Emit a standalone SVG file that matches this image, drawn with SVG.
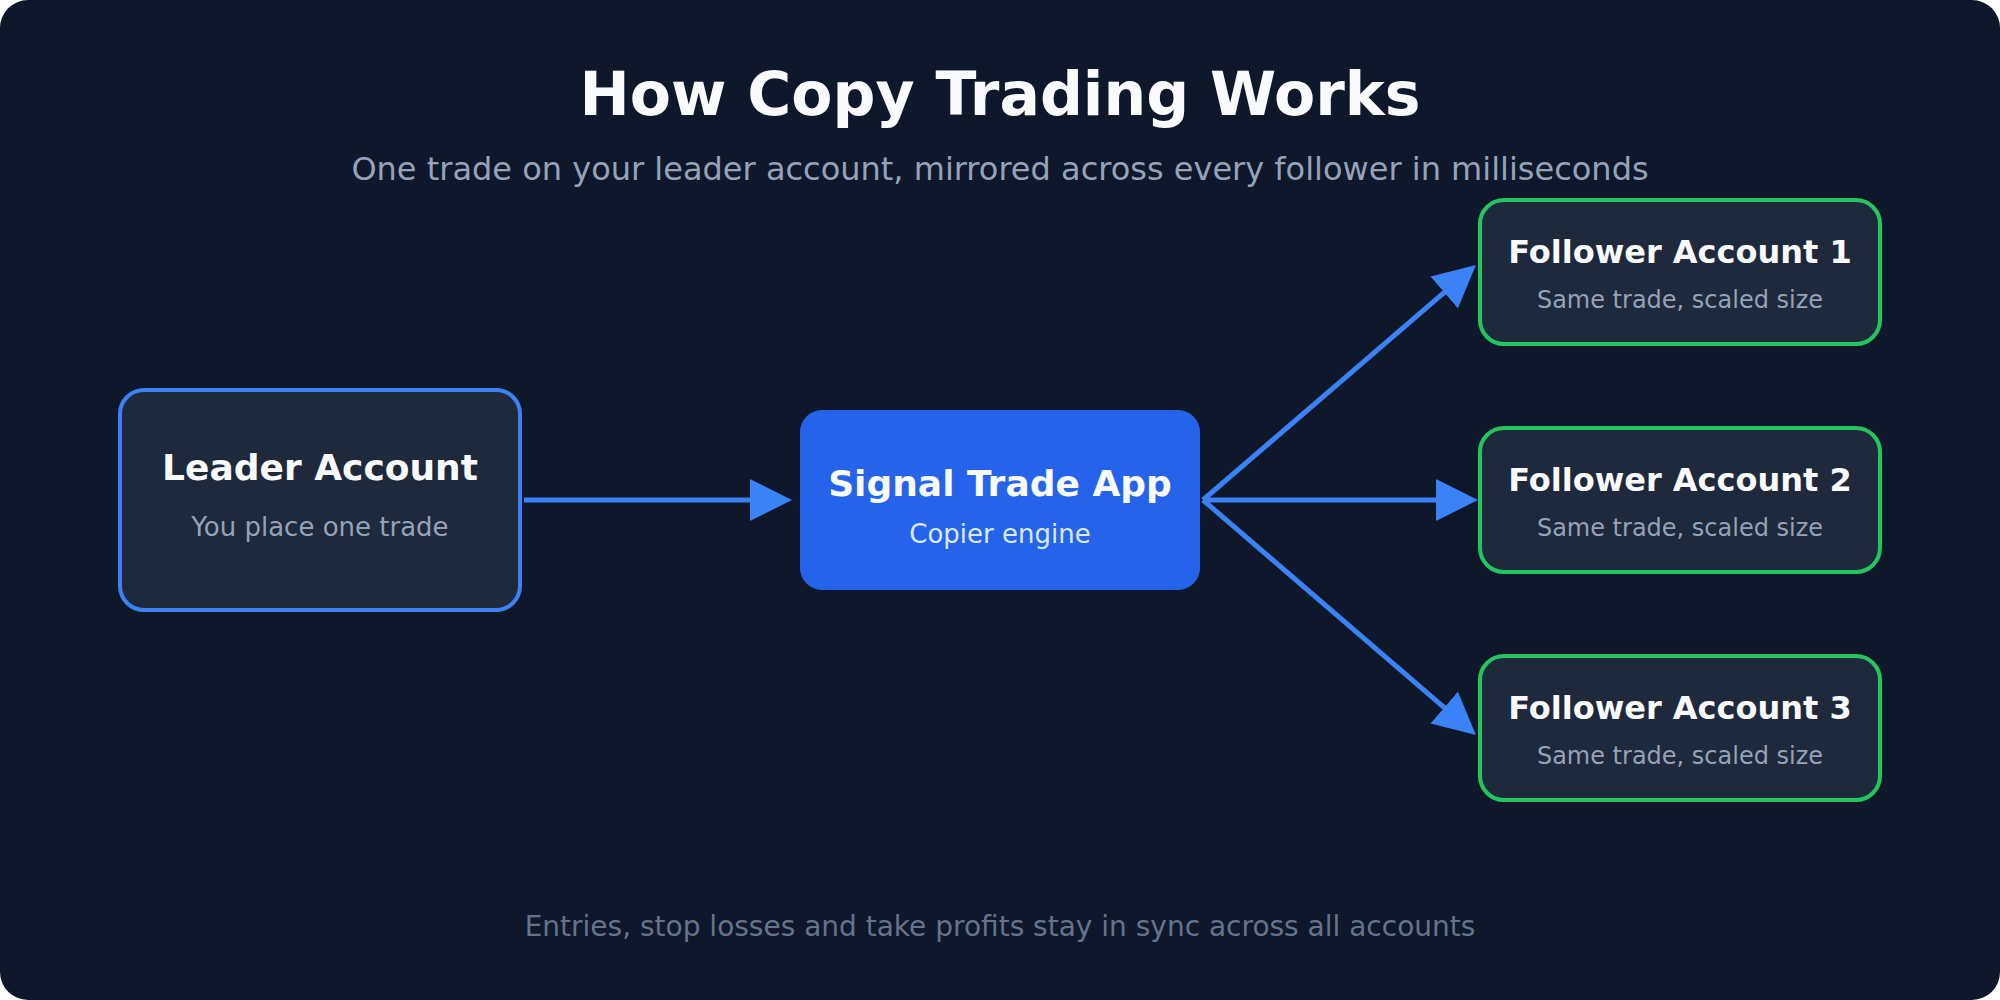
<svg xmlns="http://www.w3.org/2000/svg" width="2000" height="1000" viewBox="0 0 2000 1000">
  <defs>
    <marker id="arrow" markerUnits="userSpaceOnUse" markerWidth="42" markerHeight="42" viewBox="0 0 42 42" refX="4" refY="21" orient="auto">
      <path d="M0,0 L42,21 L0,42 Z" fill="#3b82f6"/>
    </marker>
  </defs>
  <style>
    text { font-family: "DejaVu Sans", "Liberation Sans", sans-serif; text-anchor: middle; }
    .title { font-size: 60px; font-weight: bold; fill: #f8fafc; }
    .subtitle { font-size: 32px; fill: #94a3b8; }
    .footer { font-size: 28px; fill: #64748b; }
    .card { fill: #1e293b; stroke-width: 4; }
    .leader { stroke: #3b82f6; }
    .follower { stroke: #22c55e; }
    .engine { fill: #2563eb; }
    .h-lg { font-size: 36px; font-weight: bold; fill: #f8fafc; }
    .h-md { font-size: 32px; font-weight: bold; fill: #f8fafc; }
    .sub-lg { font-size: 26px; fill: #94a3b8; }
    .sub-md { font-size: 24px; fill: #94a3b8; }
    .sub-engine { font-size: 26px; fill: #dbeafe; }
    .conn { stroke: #3b82f6; stroke-width: 5; fill: none; marker-end: url(#arrow); }
  </style>

  <rect x="0" y="0" width="2000" height="1000" rx="28" ry="28" fill="#0f172a"/>

  <g id="header">
    <text class="title" x="1000" y="115">How Copy Trading Works</text>
    <text class="subtitle" x="1000" y="180">One trade on your leader account, mirrored across every follower in milliseconds</text>
  </g>

  <g id="connectors">
    <path class="conn" d="M524,500 L754,500"/>
    <path class="conn" d="M1203,500 L1440,500"/>
    <path class="conn" d="M1203,500 L1447.2,289.8"/>
    <path class="conn" d="M1203,500 L1447.2,710.2"/>
  </g>

  <g id="leader">
    <rect class="card leader" x="120" y="390" width="400" height="220" rx="24" ry="24"/>
    <text class="h-lg" x="320" y="480">Leader Account</text>
    <text class="sub-lg" x="320" y="536">You place one trade</text>
  </g>

  <g id="engine">
    <rect class="engine" x="800" y="410" width="400" height="180" rx="22" ry="22"/>
    <text class="h-lg" x="1000" y="496">Signal Trade App</text>
    <text class="sub-engine" x="1000" y="543">Copier engine</text>
  </g>

  <g id="follower1">
    <rect class="card follower" x="1480" y="200" width="400" height="144" rx="24" ry="24"/>
    <text class="h-md" x="1680" y="263">Follower Account 1</text>
    <text class="sub-md" x="1680" y="308">Same trade, scaled size</text>
  </g>

  <g id="follower2">
    <rect class="card follower" x="1480" y="428" width="400" height="144" rx="24" ry="24"/>
    <text class="h-md" x="1680" y="491">Follower Account 2</text>
    <text class="sub-md" x="1680" y="536">Same trade, scaled size</text>
  </g>

  <g id="follower3">
    <rect class="card follower" x="1480" y="656" width="400" height="144" rx="24" ry="24"/>
    <text class="h-md" x="1680" y="719">Follower Account 3</text>
    <text class="sub-md" x="1680" y="764">Same trade, scaled size</text>
  </g>

  <g id="footer">
    <text class="footer" x="1000" y="936">Entries, stop losses and take profits stay in sync across all accounts</text>
  </g>
</svg>
